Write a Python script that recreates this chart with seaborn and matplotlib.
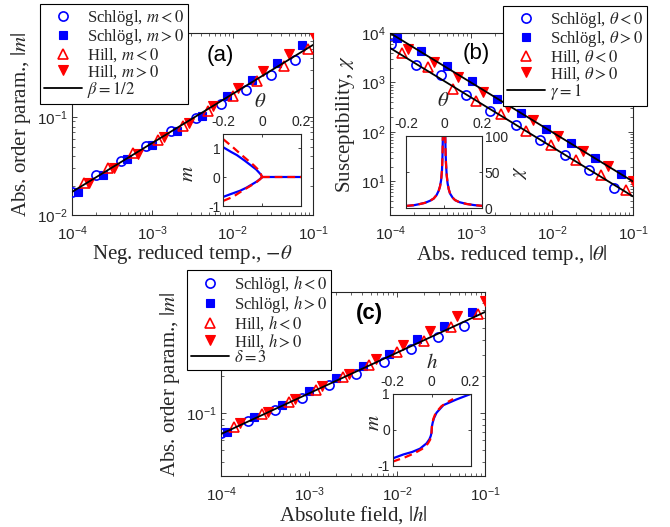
import matplotlib
matplotlib.use("Agg")
import matplotlib.pyplot as plt
import seaborn as sns

# ---------------- data: panel (a) ----------------
a_sch_neg_x = [1.0e-4, 1.98e-4, 4.12e-4, 8.4e-4, 1.73e-3, 3.5e-3, 7.13e-3, 1.46e-2, 2.96e-2, 6.05e-2]
a_sch_neg_y = [0.0173, 0.0257, 0.0357, 0.0501, 0.0713, 0.0977, 0.137, 0.190, 0.271, 0.380]
a_sch_pos_x = [1.17e-4, 2.4e-4, 4.89e-4, 9.97e-4, 2.03e-3, 4.15e-3, 8.45e-3, 1.73e-2, 3.52e-2, 7.38e-2]
a_sch_pos_y = [0.0173, 0.0257, 0.0371, 0.0513, 0.0724, 0.1017, 0.163, 0.236, 0.357, 0.537]
a_hill_neg_x = [1.39e-4, 2.82e-4, 5.81e-4, 1.17e-3, 2.42e-3, 4.88e-3, 9.95e-3, 2.03e-2, 4.34e-2, 8.67e-2]
a_hill_neg_y = [0.0211, 0.0301, 0.0428, 0.0586, 0.0815, 0.116, 0.163, 0.232, 0.330, 0.489]
a_hill_pos_x = [1.64e-4, 3.34e-4, 6.62e-4, 1.39e-3, 2.84e-3, 5.68e-3, 1.15e-2, 2.4e-2, 5.05e-2, 1.0e-1]
a_hill_pos_y = [0.0211, 0.0301, 0.0422, 0.0624, 0.0869, 0.1306, 0.198, 0.294, 0.435, 0.697]
a_line_x = [1e-4, 1e-1]
a_line_y = [0.0172, 0.544]

# inset (a): m vs theta
ia_sch_up_t = [-0.2, -0.16, -0.13, -0.09, -0.053, -0.03, -0.019, -0.008, -0.002, 0.0]
ia_sch_up_m = [1.04, 0.88, 0.77, 0.58, 0.39, 0.27, 0.19, 0.11, 0.05, 0.0]
ia_sch_lo_t = [-0.2, -0.16, -0.114, -0.08, -0.045, -0.025, -0.01, 0.0]
ia_sch_lo_m = [-0.68, -0.58, -0.47, -0.36, -0.22, -0.14, -0.06, 0.0]
ia_hill_up_t = [-0.2, -0.15, -0.11, -0.075, -0.045, -0.025, -0.012, -0.004, 0.0]
ia_hill_up_m = [1.32, 1.04, 0.80, 0.60, 0.43, 0.30, 0.18, 0.08, 0.0]
ia_hill_lo_t = [-0.2, -0.15, -0.1, -0.07, -0.045, -0.025, -0.01, 0.0]
ia_hill_lo_m = [-0.82, -0.68, -0.46, -0.34, -0.24, -0.15, -0.07, 0.0]
ia_zero_t = [0.0, 0.2]
ia_zero_m = [0.0, 0.0]

# ---------------- data: panel (b) ----------------
b_sch_neg_x = [1.03e-4, 2.09e-4, 4.33e-4, 8.65e-4, 1.71e-3, 3.55e-3, 7.08e-3, 1.44e-2, 2.87e-2, 5.83e-2]
b_sch_neg_y = [6000, 2290, 1440, 568, 262, 141, 70, 34.8, 17.3, 7.4]
b_sch_pos_x = [1.21e-4, 2.45e-4, 5.0e-4, 1.02e-3, 2.07e-3, 4.2e-3, 8.55e-3, 1.71e-2, 3.44e-2, 7.05e-2]
b_sch_pos_y = [7925, 4266, 2121, 1056, 464, 242, 117, 60, 29.9, 14.4]
b_hill_neg_x = [1.39e-4, 2.97e-4, 6.04e-4, 1.17e-3, 2.38e-3, 4.84e-3, 9.85e-3, 2.0e-2, 4.07e-2, 8.28e-2]
b_hill_neg_y = [3945, 2024, 739, 417, 235, 106, 53.8, 27.6, 13.3, 6.8]
b_hill_pos_x = [1.68e-4, 3.49e-4, 6.97e-4, 1.42e-3, 2.88e-3, 5.85e-3, 1.19e-2, 2.42e-2, 4.92e-2, 1.0e-1]
b_hill_pos_y = [4753, 2552, 1271, 632, 320, 172, 81.7, 40.6, 20.2, 10.1]
b_line_x = [1e-4, 1e-1]
b_line_pos_y = [1e4, 10]
b_line_neg_y = [5000, 5]

# inset (b): chi vs theta
ib_t = [-0.2, -0.16, -0.126, -0.1, -0.074, -0.055, -0.039, -0.028, -0.021, -0.015, -0.0105, -0.008,
        -0.006, -0.004, 0.004, 0.0065, 0.0085, 0.0105, 0.014, 0.019, 0.025, 0.032, 0.045, 0.058,
        0.08, 0.119, 0.16, 0.2]
ib_sch_chi = [2.8, 3.8, 5.6, 7.2, 10, 13, 18, 24, 30, 39, 53, 72, 100, 140, 140, 100, 75, 62, 46,
              34, 26, 20, 14.5, 11, 8.2, 5.6, 4.0, 3.0]
ib_hill_chi = [2.9, 3.9, 5.6, 7.2, 10, 13, 18, 24, 30, 39, 53, 72, 100, 140, 140, 100, 75, 62, 46,
               34, 26, 20, 14.5, 11, 8.2, 5.6, 4.0, 3.0]

# ---------------- data: panel (c) ----------------
c_sch_neg_x = [1.0e-4, 2.05e-4, 4.12e-4, 8.3e-4, 1.70e-3, 3.45e-3, 7.08e-3, 1.45e-2, 2.92e-2, 5.77e-2]
c_sch_neg_y = [0.069, 0.0860, 0.1065, 0.134, 0.169, 0.209, 0.262, 0.337, 0.420, 0.520]
c_sch_pos_x = [1.18e-4, 2.38e-4, 4.91e-4, 9.88e-4, 2.02e-3, 4.07e-3, 8.2e-3, 1.69e-2, 3.41e-2, 7.05e-2]
c_sch_pos_y = [0.0703, 0.092, 0.117, 0.151, 0.192, 0.244, 0.305, 0.404, 0.520, 0.678]
c_hill_neg_x = [1.42e-4, 2.9e-4, 5.85e-4, 1.2e-3, 2.41e-3, 4.85e-3, 1.0e-2, 2.02e-2, 4.14e-2, 8.4e-2]
c_hill_neg_y = [0.0763, 0.098, 0.124, 0.155, 0.196, 0.247, 0.314, 0.392, 0.503, 0.647]
c_hill_pos_x = [1.64e-4, 3.4e-4, 6.85e-4, 1.40e-3, 2.82e-3, 5.78e-3, 1.16e-2, 2.37e-2, 4.77e-2, 1.0e-1]
c_hill_pos_y = [0.0828, 0.1026, 0.130, 0.166, 0.209, 0.277, 0.361, 0.473, 0.628, 0.834]
c_line_x = [1e-4, 1e-1]
c_line_y = [0.0673, 0.673]

# inset (c): m vs h
ic_sch_h = [-0.2, -0.145, -0.1, -0.06, -0.026, -0.012, -0.005, -0.001, 0.0, 0.001, 0.005, 0.012,
            0.025, 0.06, 0.128, 0.2]
ic_sch_m = [-0.79, -0.68, -0.61, -0.52, -0.37, -0.26, -0.17, -0.08, 0.0, 0.09, 0.2, 0.33, 0.48,
            0.69, 0.85, 1.0]
ic_hill_h = [-0.2, -0.137, -0.09, -0.05, -0.02, -0.008, -0.002, 0.0, 0.002, 0.008, 0.02, 0.05,
             0.08, 0.11]
ic_hill_m = [-0.88, -0.76, -0.65, -0.53, -0.38, -0.27, -0.15, 0.0, 0.15, 0.3, 0.47, 0.66, 0.77, 0.86]

# ---------------- style ----------------
sns.set_theme(style="white")
DARK = "#262626"
plt.rcParams.update({
    "font.family": ["Liberation Sans", "DejaVu Sans"],
    "mathtext.fontset": "stix",
    "axes.unicode_minus": False,
    "axes.edgecolor": DARK,
    "axes.linewidth": 0.8,
    "axes.facecolor": "white",
    "figure.facecolor": "white",
    "xtick.direction": "in", "ytick.direction": "in",
    "xtick.top": True, "ytick.right": True,
    "xtick.bottom": True, "ytick.left": True,
    "xtick.color": DARK, "ytick.color": DARK,
    "xtick.major.size": 3.5, "ytick.major.size": 3.5,
    "xtick.minor.size": 2.0, "ytick.minor.size": 2.0,
    "xtick.major.width": 0.6, "ytick.major.width": 0.6,
    "xtick.minor.width": 0.5, "ytick.minor.width": 0.5,
    "xtick.major.pad": 3, "ytick.major.pad": 3,
    "xtick.labelsize": 11, "ytick.labelsize": 11,
})
SERIF = "Liberation Serif"
LABEL_FS = 15

fig = plt.figure(figsize=(6.7, 5.27), dpi=100)

MK = {
    "sch_neg": dict(marker="o", markersize=6.6, markerfacecolor="none", markeredgecolor="blue",
                    markeredgewidth=1.2, color="blue"),
    "sch_pos": dict(marker="s", markersize=6.0, markerfacecolor="blue", markeredgecolor="blue",
                    markeredgewidth=0.8, color="blue"),
    "hill_neg": dict(marker="^", markersize=7.5, markerfacecolor="none", markeredgecolor="red",
                     markeredgewidth=1.2, color="red"),
    "hill_pos": dict(marker="v", markersize=7.5, markerfacecolor="red", markeredgecolor="red",
                     markeredgewidth=0.8, color="red"),
}


def scatter_series(ax, x, y, key, label):
    sns.lineplot(x=x, y=y, ax=ax, linestyle="", estimator=None, sort=False,
                 legend=False, label=label, zorder=3, **MK[key])


def fit_line(ax, x, y, label):
    sns.lineplot(x=x, y=y, ax=ax, color="black", linewidth=1.3, estimator=None, sort=False,
                 legend=False, label=label, zorder=4)


def finish_main(ax, xlabel, ylabel, ylim, tag, tagpos, legend_anchor, bold=False):
    ax.set_xscale("log")
    ax.set_yscale("log")
    ax.set_xlim(1e-4, 1e-1)
    ax.set_ylim(*ylim)
    ax.set_xlabel(xlabel, fontfamily=SERIF, fontsize=LABEL_FS, color=DARK, labelpad=0)
    ax.set_ylabel(ylabel, fontfamily=SERIF, fontsize=LABEL_FS, color=DARK, labelpad=3)
    ax.tick_params(which="both", top=True, right=True, bottom=True, left=True)
    ax.tick_params(axis="x", which="major", pad=6.5)
    ax.text(tagpos[0], tagpos[1], tag, transform=ax.transAxes, fontsize=16,
            ha="center", va="center", fontweight="bold" if bold else "normal", color="black")
    for s in ax.spines.values():
        s.set_visible(True)
        s.set_color(DARK)
    h, l = ax.get_legend_handles_labels()
    keep = [(hh, ll) for hh, ll in zip(h, l) if not ll.startswith("_")]
    leg = ax.legend([k[0] for k in keep], [k[1] for k in keep], loc="upper left",
                    bbox_to_anchor=legend_anchor, bbox_transform=fig.transFigure,
                    borderaxespad=0, frameon=True, fancybox=False, framealpha=1,
                    edgecolor="black", prop={"family": SERIF, "size": 12},
                    handlelength=2.3, handletextpad=0.25, labelspacing=-0.06,
                    borderpad=0.25, numpoints=1)
    leg.get_frame().set_linewidth(0.8)
    leg.set_zorder(10)


def inset(rect, xlabel, ylabel, ylim, yticks, xl_pos, yl_pos, right=False):
    axi = fig.add_axes(rect)
    axi.set_xlim(-0.2, 0.2)
    axi.set_ylim(*ylim)
    axi.set_xticks([-0.2, 0, 0.2])
    axi.set_xticklabels(["-0.2", "0", "0.2"])
    axi.set_yticks(yticks)
    axi.set_yticklabels([f"{v:g}" for v in yticks])
    axi.tick_params(which="both", top=True, bottom=True, left=True, right=True,
                    labeltop=True, labelbottom=False, labelleft=not right, labelright=right,
                    labelsize=10, pad=2, length=2.5)
    axi.tick_params(axis="x", pad=3.8)
    axi.xaxis.set_label_position("top")
    if right:
        axi.yaxis.set_label_position("right")
    axi.set_xlabel(xlabel, fontsize=LABEL_FS, color=DARK)
    axi.set_ylabel(ylabel, fontsize=LABEL_FS, color=DARK)
    axi.xaxis.set_label_coords(*xl_pos)
    axi.yaxis.set_label_coords(*yl_pos)
    axi.xaxis.label.set_va("center")
    axi.yaxis.label.set_va("center")
    axi.yaxis.label.set_ha("center")
    for s in axi.spines.values():
        s.set_visible(True)
        s.set_color(DARK)
    return axi


def curve(ax, x, y, color, dashed=False):
    kw = dict(color=color, linewidth=1.6, estimator=None, sort=False, legend=False)
    if dashed:
        kw["linestyle"] = (0, (3.5, 2.2))
    sns.lineplot(x=x, y=y, ax=ax, **kw)


# ---------------- panel (a) ----------------
ax_a = fig.add_axes([0.1075, 0.592, 0.3597, 0.3454])
scatter_series(ax_a, a_sch_neg_x, a_sch_neg_y, "sch_neg", r"Schlögl, $m<0$")
scatter_series(ax_a, a_sch_pos_x, a_sch_pos_y, "sch_pos", r"Schlögl, $m>0$")
scatter_series(ax_a, a_hill_neg_x, a_hill_neg_y, "hill_neg", r"Hill, $m<0$")
scatter_series(ax_a, a_hill_pos_x, a_hill_pos_y, "hill_pos", r"Hill, $m>0$")
fit_line(ax_a, a_line_x, a_line_y, r"$\beta=1/2$")
finish_main(ax_a, r"Neg. reduced temp., $-\theta$", r"Abs. order param., $|m|$",
            (0.01, 0.72), "(a)", (0.617, 0.874), (0.0597, 0.9924))

ia = inset([0.3333, 0.609, 0.1155, 0.1366], r"$\theta$", r"$m$", (-1, 1.5), [-1, 0, 1],
           (0.48, 1.45), (-0.46, 0.45))
curve(ia, ia_sch_up_t, ia_sch_up_m, "blue")
curve(ia, ia_sch_lo_t, ia_sch_lo_m, "blue")
curve(ia, ia_zero_t, ia_zero_m, "blue")
curve(ia, ia_hill_up_t, ia_hill_up_m, "red", dashed=True)
curve(ia, ia_hill_lo_t, ia_hill_lo_m, "red", dashed=True)
curve(ia, ia_zero_t, ia_zero_m, "red", dashed=True)
ia.set_xlim(-0.2, 0.2)
ia.set_ylim(-1, 1.5)

# ---------------- panel (b) ----------------
ax_b = fig.add_axes([0.582, 0.592, 0.3627, 0.3454])
scatter_series(ax_b, b_sch_neg_x, b_sch_neg_y, "sch_neg", r"Schlögl, $\theta<0$")
scatter_series(ax_b, b_sch_pos_x, b_sch_pos_y, "sch_pos", r"Schlögl, $\theta>0$")
scatter_series(ax_b, b_hill_neg_x, b_hill_neg_y, "hill_neg", r"Hill, $\theta<0$")
scatter_series(ax_b, b_hill_pos_x, b_hill_pos_y, "hill_pos", r"Hill, $\theta>0$")
fit_line(ax_b, b_line_x, b_line_pos_y, r"$\gamma=1$")
fit_line(ax_b, b_line_x, b_line_neg_y, "_nolegend_")
finish_main(ax_b, r"Abs. reduced temp., $|\theta|$", r"Susceptibility, $\chi$",
            (2.1, 1e4), "(b)", (0.357, 0.888), (0.7507, 0.9886))

ib = inset([0.606, 0.6053, 0.1134, 0.1366], r"$\theta$", r"$\chi$", (0, 100), [0, 50, 100],
           (0.49, 1.49), (1.5, 0.49), right=True)
curve(ib, ib_t, ib_sch_chi, "blue")
curve(ib, ib_t, ib_hill_chi, "red", dashed=True)
ib.set_xlim(-0.2, 0.2)
ib.set_ylim(0, 100)

# ---------------- panel (c) ----------------
ax_c = fig.add_axes([0.3299, 0.0968, 0.394, 0.349])
scatter_series(ax_c, c_sch_neg_x, c_sch_neg_y, "sch_neg", r"Schlögl, $h<0$")
scatter_series(ax_c, c_sch_pos_x, c_sch_pos_y, "sch_pos", r"Schlögl, $h>0$")
scatter_series(ax_c, c_hill_neg_x, c_hill_neg_y, "hill_neg", r"Hill, $h<0$")
scatter_series(ax_c, c_hill_pos_x, c_hill_pos_y, "hill_pos", r"Hill, $h>0$")
fit_line(ax_c, c_line_x, c_line_y, r"$\delta=3$")
finish_main(ax_c, r"Absolute field, $|h|$", r"Abs. order param., $|m|$",
            (0.0305, 0.98), "(c)", (0.564, 0.884), (0.279, 0.4877), bold=True)

ic = inset([0.5861, 0.1158, 0.1164, 0.1366], r"$h$", r"$m$", (-1, 1), [-1, 0, 1],
           (0.51, 1.44), (-0.25, 0.6))
curve(ic, ic_sch_h, ic_sch_m, "blue")
curve(ic, ic_hill_h, ic_hill_m, "red", dashed=True)
ic.set_xlim(-0.2, 0.2)
ic.set_ylim(-1, 1)

fig.savefig("out.png", dpi=100)
